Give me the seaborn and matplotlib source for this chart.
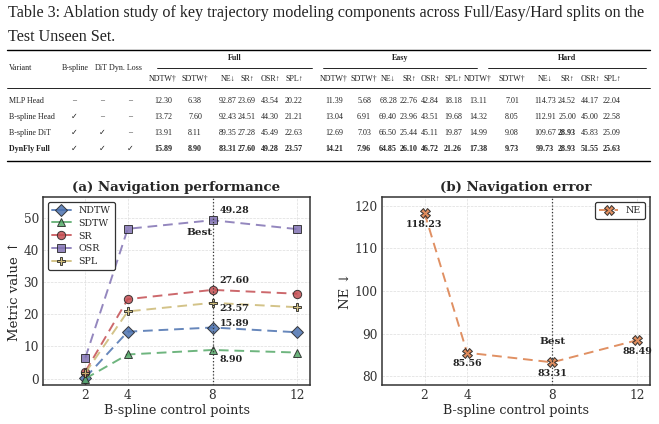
import numpy as np
import pandas as pd
import matplotlib
matplotlib.use("Agg")
import matplotlib.pyplot as plt
from matplotlib.lines import Line2D
import seaborn as sns

# --- 表格数据 ---
caption_line1 = "Table 3: Ablation study of key trajectory modeling components across Full/Easy/Hard splits on the"
caption_line2 = "Test Unseen Set."
variants = ["MLP Head", "B-spline Head", "B-spline DiT", "DynFly Full"]
use_bspline = ["–", "✓", "✓", "✓"]
use_dit = ["–", "–", "✓", "✓"]
use_dynloss = ["–", "–", "–", "✓"]
split_names = ["Full", "Easy", "Hard"]
metric_headers = ["NDTW†", "SDTW†", "NE↓", "SR↑", "OSR↑", "SPL↑"]
full_rows = [
    ["12.30", "6.38", "92.87", "23.69", "43.54", "20.22"],
    ["13.72", "7.60", "92.43", "24.51", "44.30", "21.21"],
    ["13.91", "8.11", "89.35", "27.28", "45.49", "22.63"],
    ["15.89", "8.90", "83.31", "27.60", "49.28", "23.57"],
]
easy_rows = [
    ["11.39", "5.68", "68.28", "22.76", "42.84", "18.18"],
    ["13.04", "6.91", "69.40", "23.96", "43.51", "19.68"],
    ["12.69", "7.03", "66.50", "25.44", "45.11", "19.87"],
    ["14.21", "7.96", "64.85", "26.10", "46.72", "21.26"],
]
hard_rows = [
    ["13.11", "7.01", "114.73", "24.52", "44.17", "22.04"],
    ["14.32", "8.05", "112.91", "25.00", "45.00", "22.58"],
    ["14.99", "9.08", "109.67", "28.93", "45.83", "25.09"],
    ["17.38", "9.73", "99.73", "28.93", "51.55", "25.63"],
]

# --- 曲线数据 ---
control_points = [2, 4, 8, 12]
ndtw = [0.3, 14.6, 15.89, 14.4]
sdtw = [0.0, 7.5, 8.90, 8.1]
sr = [2.2, 24.7, 27.60, 26.4]
osr = [6.5, 46.6, 49.28, 46.5]
spl = [1.8, 20.9, 23.57, 22.2]
ne = [118.23, 85.56, 83.31, 88.49]

W, H = 659, 424
fig = plt.figure(figsize=(W / 100, H / 100), dpi=100)
sns.set_theme(style="whitegrid")
serif_tab = ["Liberation Serif", "DejaVu Sans"]
serif_fig = ["DejaVu Serif", "DejaVu Sans"]


def fx(x):
    return x / W


def fy(y):
    return 1 - y / H


def hline(x0, x1, y, lw):
    fig.add_artist(Line2D([fx(x0), fx(x1)], [fy(y), fy(y)], color="black",
                          lw=lw, transform=fig.transFigure))


def ftext(x, y, s, size=5.8, ha="center", bold=False):
    fig.text(fx(x), fy(y), s, ha=ha, va="center", fontsize=size,
             family=serif_tab, weight="bold" if bold else "normal", color="#222222")


# --- 标题 ---
ftext(8, 13, caption_line1, size=11.6, ha="left")
ftext(8, 37, caption_line2, size=11.6, ha="left")

# --- 表格 ---
hline(7, 650, 49.5, 1.0)
hline(7, 650, 88, 0.6)
hline(7, 650, 161, 1.0)
ftext(9, 68, "Variant", ha="left")
ftext(75, 68, "B-spline")
ftext(101, 68, "DiT")
ftext(125, 68, "Dyn. Loss")

split_cols = [
    [163, 195, 228, 247, 270, 294],
    [334, 364, 388, 409, 430, 453],
    [478, 512, 545, 567, 590, 612],
]
split_rules = [(157, 312), (323, 477), (488, 646)]
split_data = [full_rows, easy_rows, hard_rows]
row_y = [100.7, 116.7, 132.7, 148.7]

for name, cols, (r0, r1), rows in zip(split_names, split_cols, split_rules, split_data):
    ftext((r0 + r1) / 2, 58, name, bold=True)
    hline(r0, r1, 68, 0.6)
    for cx, h in zip(cols, metric_headers):
        ftext(cx, 79, h)
    for i, row in enumerate(rows):
        for j, (cx, v) in enumerate(zip(cols, row)):
            bold = (i == 3) or (name == "Hard" and i == 2 and j == 3)
            ftext(cx, row_y[i], v, bold=bold)

for i, v in enumerate(variants):
    ftext(9, row_y[i], v, ha="left", bold=(i == 3))
    ftext(74, row_y[i], use_bspline[i])
    ftext(102, row_y[i], use_dit[i])
    ftext(130, row_y[i], use_dynloss[i])

# --- 图 (a) ---
palette = sns.color_palette("deep")
metric_names = ["NDTW", "SDTW", "SR", "OSR", "SPL"]
metric_vals = [ndtw, sdtw, sr, osr, spl]
metric_colors = [palette[0], palette[2], palette[3], palette[4], palette[8]]
metric_markers = ["D", "^", "o", "s", "P"]
df = pd.DataFrame({
    "cp": np.tile(control_points, len(metric_names)),
    "value": np.concatenate(metric_vals),
    "metric": np.repeat(metric_names, len(control_points)),
})

ax1 = fig.add_axes([fx(43), fy(385), fx(310 - 43), (385 - 197) / H])
ax2 = fig.add_axes([fx(382), fy(385), fx(650 - 382), (385 - 197) / H])

sns.lineplot(data=df, x="cp", y="value", hue="metric", style="metric",
             palette=dict(zip(metric_names, metric_colors)),
             markers=dict(zip(metric_names, metric_markers)),
             dashes={m: (5, 3) for m in metric_names},
             markersize=6, markeredgecolor="#222222", markeredgewidth=0.7,
             linewidth=1.4, alpha=0.85, ax=ax1)

ne_df = pd.DataFrame({"cp": control_points, "NE": ne})
sns.lineplot(data=ne_df, x="cp", y="NE", color=palette[1], marker="X",
             markersize=7, markeredgecolor="#222222", markeredgewidth=0.7,
             linestyle=(0, (5, 3)), linewidth=1.4, alpha=0.9, label="NE", ax=ax2)

for ax in (ax1, ax2):
    ax.set_xticks(control_points)
    ax.set_xlim(0.0, 12.6)
    ax.grid(True, linestyle="--", linewidth=0.5, color="#dddddd")
    ax.axvline(8, color="#333333", linestyle=":", linewidth=0.9)
    for sp in ax.spines.values():
        sp.set_color("#333333")
        sp.set_linewidth(1.1)
    ax.tick_params(labelsize=8.7, length=0, pad=3)
    for t in ax.get_xticklabels() + ax.get_yticklabels():
        t.set_family(serif_fig)
        t.set_color("#333333")
    ax.set_xlabel("B-spline control points", fontsize=9.2, family=serif_fig, labelpad=1)

ax1.set_ylim(-2, 56.5)
ax1.set_yticks([0, 10, 20, 30, 40, 50])
ax1.set_ylabel("Metric value ↑", fontsize=9.5, family=serif_fig, labelpad=2)
ax1.set_title("(a) Navigation performance", fontsize=9.6, weight="bold",
              family=serif_fig, pad=4)
ax2.set_ylim(78, 122)
ax2.set_yticks([80, 90, 100, 110, 120])
ax2.set_ylabel("NE ↓", fontsize=9.5, family=serif_fig, labelpad=2)
ax2.set_title("(b) Navigation error", fontsize=9.6, weight="bold",
              family=serif_fig, pad=4)

for ax, lc in ((ax1, "upper left"), (ax2, "upper right")):
    leg = ax.legend(loc=lc, prop={"family": serif_fig, "size": 6.8},
                    frameon=True, fancybox=True, handlelength=2.0,
                    borderpad=0.45, labelspacing=0.4)
    leg.get_frame().set_edgecolor("#333333")
    leg.get_frame().set_linewidth(0.9)
    leg.get_frame().set_alpha(1)
for h in ax1.get_legend().get_lines():
    h.set_linestyle("-")

# 标注
ann = dict(fontsize=6.8, weight="bold", family=serif_fig, color="#222222")
ax1.annotate(f"{osr[2]:.2f}", (8, osr[2]), xytext=(5, 7), textcoords="offset points", ha="left", va="center", **ann)
ax1.annotate(f"{sr[2]:.2f}", (8, sr[2]), xytext=(5, 7), textcoords="offset points", ha="left", va="center", **ann)
ax1.annotate(f"{spl[2]:.2f}", (8, spl[2]), xytext=(5, -4), textcoords="offset points", ha="left", va="center", **ann)
ax1.annotate(f"{ndtw[2]:.2f}", (8, ndtw[2]), xytext=(5, 3), textcoords="offset points", ha="left", va="center", **ann)
ax1.annotate(f"{sdtw[2]:.2f}", (8, sdtw[2]), xytext=(5, -7), textcoords="offset points", ha="left", va="center", **ann)
ax1.text(8, 45.6, "Best", ha="right", va="center", fontsize=7.5, weight="bold", family=serif_fig)

for x, v in zip(control_points, ne):
    ax2.annotate(f"{v:.2f}", (x, v), xytext=(0, -8), textcoords="offset points",
                 ha="center", va="center", **ann)
ax2.text(8, 88.2, "Best", ha="center", va="center", fontsize=7.5, weight="bold", family=serif_fig)

fig.savefig("out.png", dpi=100)
